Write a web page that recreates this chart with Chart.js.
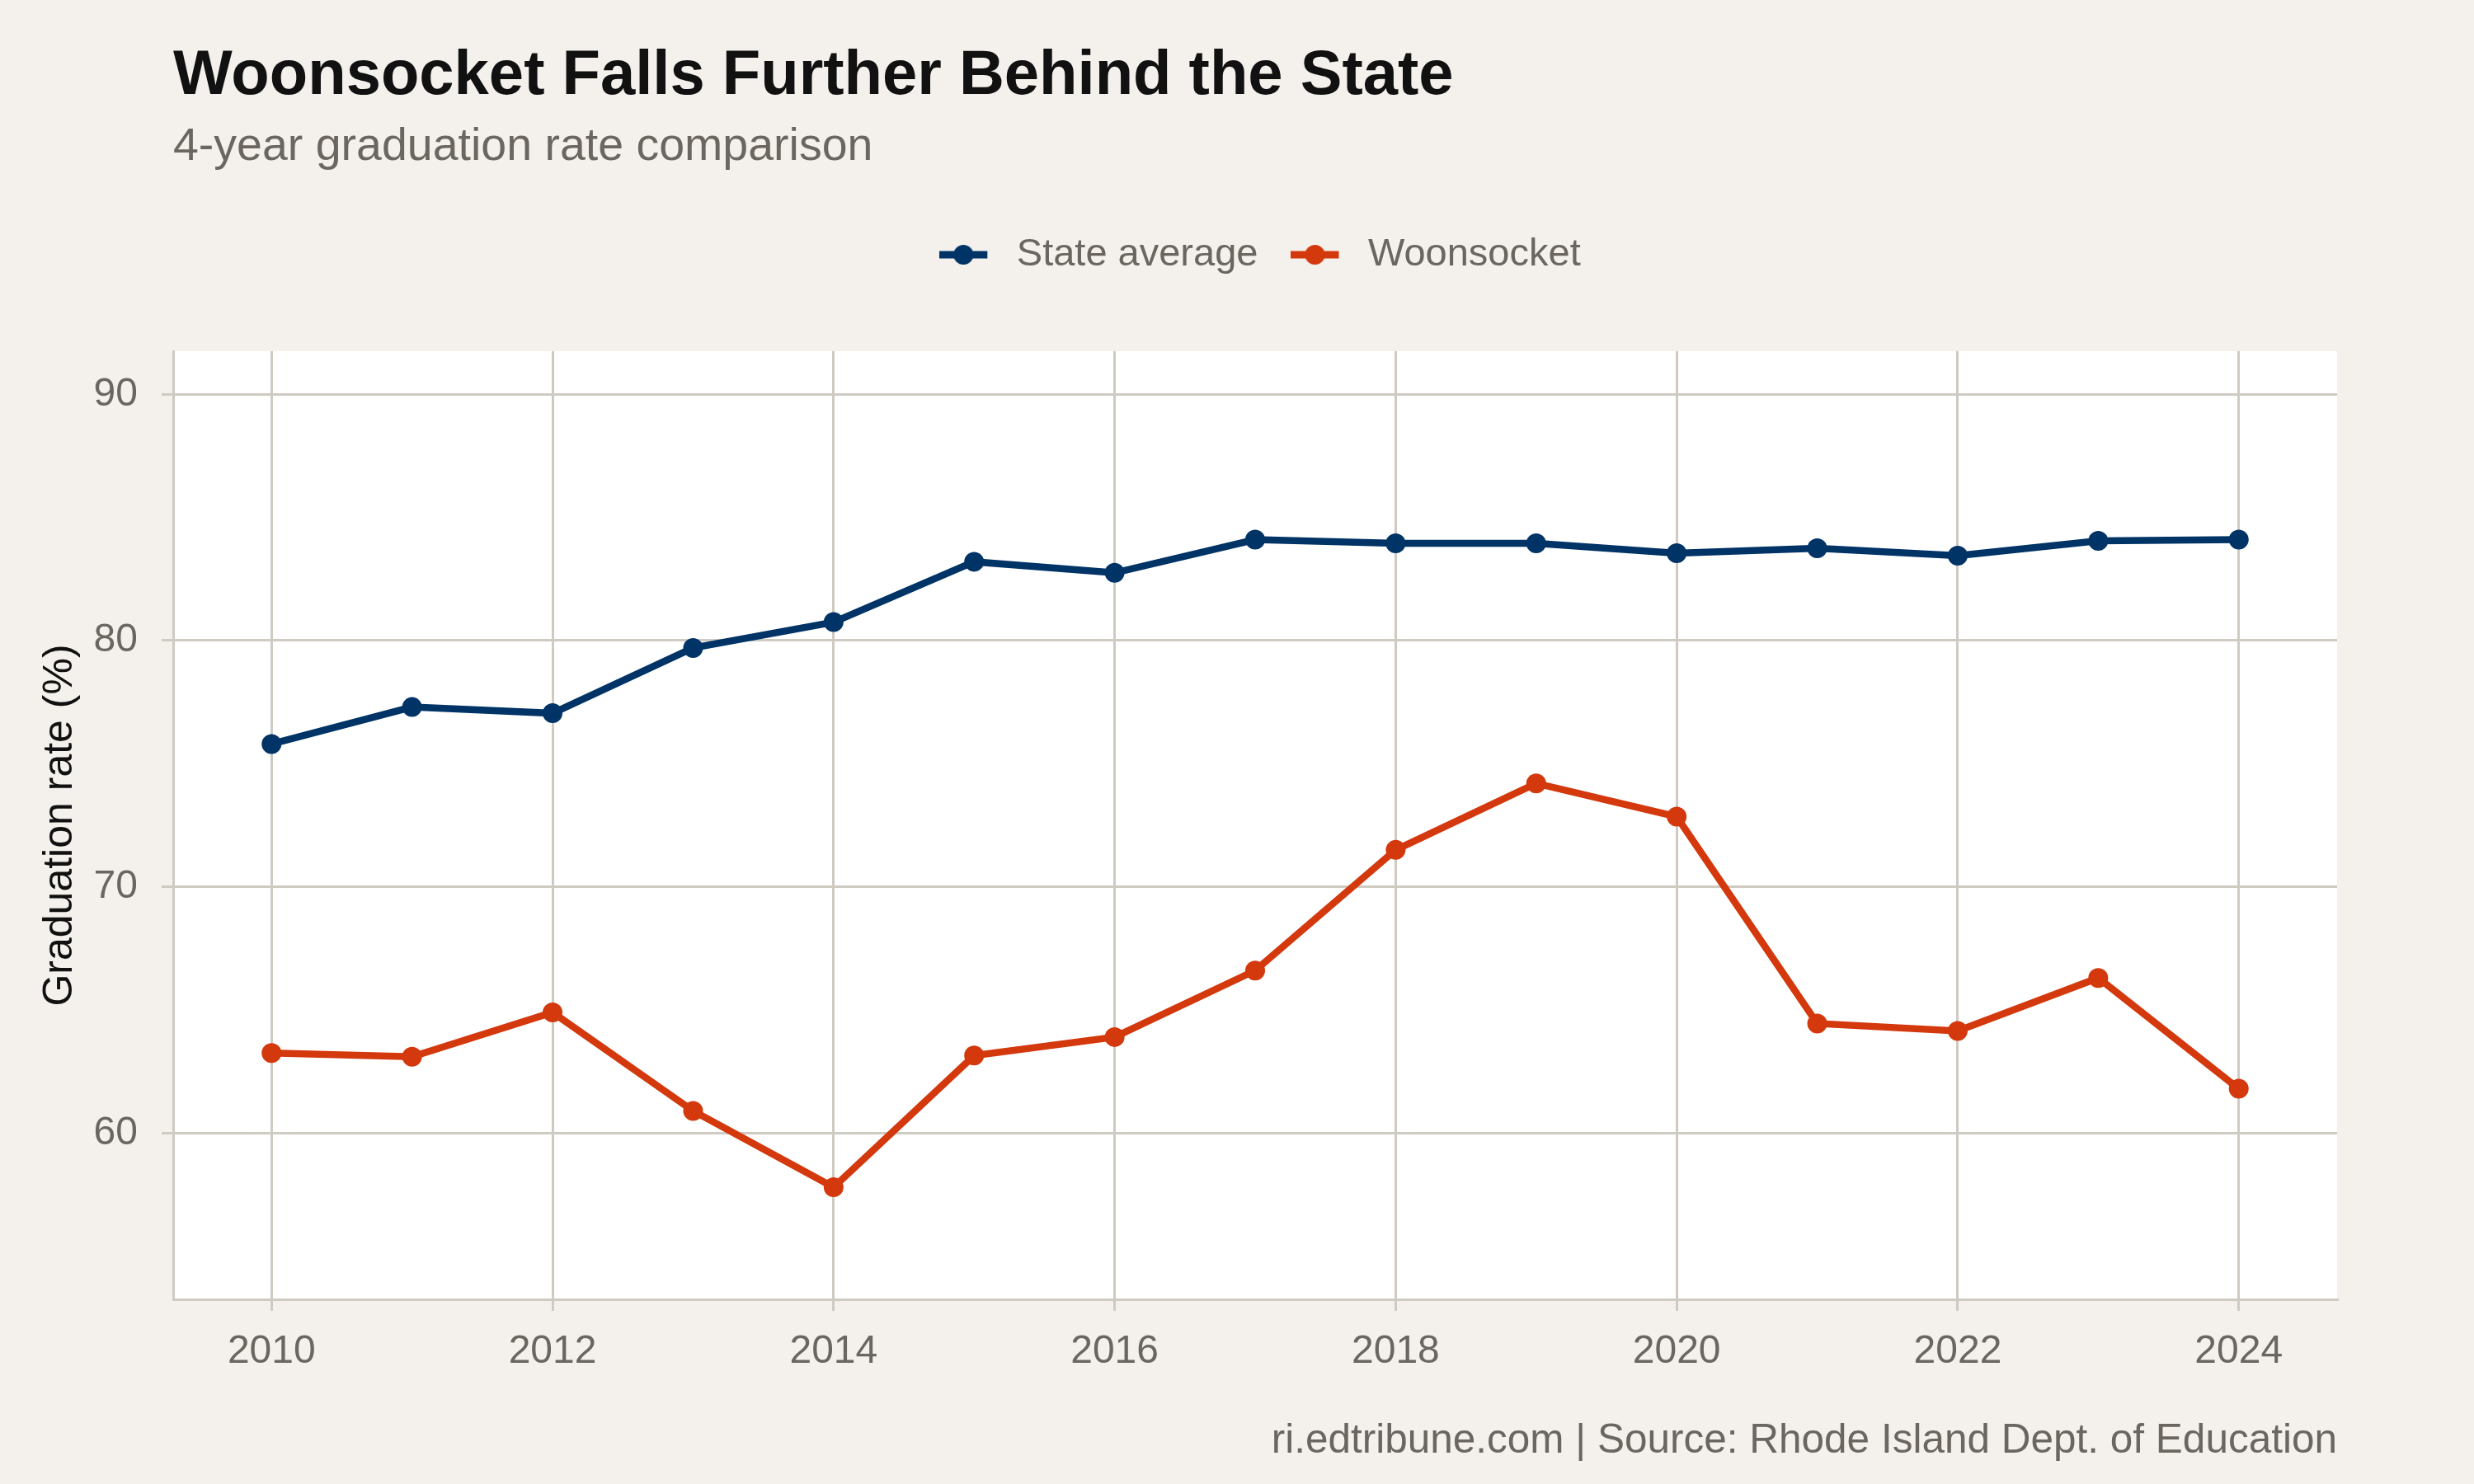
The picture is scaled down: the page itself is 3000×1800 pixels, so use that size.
<!DOCTYPE html>
<html>
<head>
<meta charset="utf-8">
<script src="https://cdn.jsdelivr.net/npm/chart.js@4"></script>
<style>
  html, body { margin: 0; padding: 0; background: #f4f1ec; }
  #wrap { width: 3000px; height: 1800px; }
</style>
</head>
<body>
<div id="wrap"><canvas id="c" width="3000" height="1800"></canvas></div>
<script>
// ---- data ----
const years = [2010, 2011, 2012, 2013, 2014, 2015, 2016, 2017, 2018, 2019, 2020, 2021, 2022, 2023, 2024];
const stateAverage = [75.8, 77.3, 77.05, 79.7, 80.75, 83.2, 82.75, 84.1, 83.95, 83.95, 83.55, 83.75, 83.45, 84.05, 84.1];
const woonsocket = [63.25, 63.1, 64.9, 60.9, 57.8, 63.15, 63.9, 66.6, 71.5, 74.2, 72.85, 64.45, 64.15, 66.3, 61.8];
const xTicks = [2010, 2012, 2014, 2016, 2018, 2020, 2022, 2024];
const yTicks = [60, 70, 80, 90];
const seriesNames = ['State average', 'Woonsocket'];
const titleText = 'Woonsocket Falls Further Behind the State';
const subtitleText = '4-year graduation rate comparison';
const captionText = 'ri.edtribune.com | Source: Rhode Island Dept. of Education';
const yTitleText = 'Graduation rate (%)';

// ---- style ----
const NAVY = '#003366';
const ORANGE = '#d4380d';
const BG = '#f4f1ec';
const GRID = '#cfcac2';
const GRAY = '#6b6660';
const FONT = "'Liberation Sans', Arial, Helvetica, sans-serif";

const AREA = { left: 210, right: 2834, top: 426, bottom: 1576 };
const legendFont = 47, legendPad = 40;

function keyImage(color) {
  const c = document.createElement('canvas');
  c.width = 70; c.height = 28;
  const g = c.getContext('2d');
  g.strokeStyle = color; g.lineWidth = 9;
  g.beginPath(); g.moveTo(0, 14); g.lineTo(58, 14); g.stroke();
  g.fillStyle = color;
  g.beginPath(); g.arc(29, 14, 12, 0, Math.PI * 2); g.fill();
  return c;
}
const keys = [keyImage(NAVY), keyImage(ORANGE)];

const bgPlugin = {
  id: 'bgPanel',
  beforeDraw(chart) {
    const ctx = chart.ctx, a = chart.chartArea;
    ctx.save();
    ctx.fillStyle = BG;
    ctx.fillRect(0, 0, chart.width, chart.height);
    ctx.fillStyle = '#ffffff';
    ctx.fillRect(a.left, a.top, a.right - a.left, a.bottom - a.top);
    ctx.restore();
  },
  afterLayout(chart) {
    const lg = chart.legend, a = chart.chartArea;
    if (!lg) return;
    const h = lg.height;
    lg.left = a.left + 6; lg.right = a.right + 6; lg.width = a.right - a.left;
    lg.top = 309 - legendPad - legendFont / 2; lg.bottom = lg.top + h;
  },
  afterDraw(chart) {
    const ctx = chart.ctx, a = chart.chartArea;
    ctx.save();
    ctx.textAlign = 'left';
    ctx.textBaseline = 'alphabetic';
    ctx.fillStyle = '#111111';
    ctx.font = 'bold 76px ' + FONT;
    ctx.fillText(titleText, a.left, 114);
    ctx.fillStyle = GRAY;
    ctx.font = '55.5px ' + FONT;
    ctx.fillText(subtitleText, a.left, 194);
    ctx.restore();
  }
};

Chart.defaults.font.family = FONT;

new Chart(document.getElementById('c'), {
  type: 'line',
  data: {
    datasets: [
      {
        label: seriesNames[0],
        data: years.map((y, i) => ({ x: y, y: stateAverage[i] })),
        borderColor: NAVY, backgroundColor: NAVY,
        borderWidth: 8.5, pointRadius: 12, pointBorderWidth: 0, pointHoverRadius: 12,
        tension: 0
      },
      {
        label: seriesNames[1],
        data: years.map((y, i) => ({ x: y, y: woonsocket[i] })),
        borderColor: ORANGE, backgroundColor: ORANGE,
        borderWidth: 8.5, pointRadius: 12, pointBorderWidth: 0, pointHoverRadius: 12,
        tension: 0
      }
    ]
  },
  options: {
    responsive: false,
    devicePixelRatio: 1,
    animation: false,
    layout: { padding: { left: 0, right: 3000 - AREA.right, top: AREA.top - (legendFont + legendPad + 10), bottom: 0 } },
    plugins: {
      tooltip: { enabled: false },
      title: { display: false },
      legend: {
        display: true,
        position: 'top',
        align: 'center',
        labels: {
          color: GRAY,
          font: { size: legendFont },
          padding: legendPad,
          usePointStyle: true,
          pointStyleWidth: 70,
          boxHeight: legendFont,
          generateLabels(chart) {
            const items = Chart.defaults.plugins.legend.labels.generateLabels(chart);
            items.forEach((it, i) => { it.pointStyle = keys[i]; });
            return items;
          }
        }
      }
    },
    scales: {
      x: {
        type: 'linear',
        min: 2009.3, max: 2024.7,
        afterBuildTicks(scale) { scale.ticks = xTicks.map(v => ({ value: v })); },
        afterFit(scale) { scale.height = 1800 - AREA.bottom; },
        ticks: {
          color: GRAY, font: { size: 48 }, padding: 21, maxRotation: 0, autoSkip: false,
          callback: v => String(v)
        },
        grid: { color: GRID, lineWidth: 3, drawTicks: true, tickLength: 14, tickColor: GRID, tickWidth: 3 },
        border: { display: true, color: GRID, width: 3 },
        title: {
          display: true, text: captionText, align: 'end', color: GRAY,
          font: { size: 49.5 }, padding: { top: 0, bottom: 22 }
        }
      },
      y: {
        type: 'linear',
        min: 53.25, max: 91.75,
        afterBuildTicks(scale) { scale.ticks = yTicks.map(v => ({ value: v })); },
        afterFit(scale) { scale.width = AREA.left; },
        ticks: { color: GRAY, font: { size: 48 }, padding: 29, callback: v => String(v) },
        grid: { color: GRID, lineWidth: 3, drawTicks: true, tickLength: 14, tickColor: GRID, tickWidth: 3 },
        border: { display: true, color: GRID, width: 3 },
        title: {
          display: true, text: yTitleText, color: '#111111',
          font: { size: 50 }, padding: { top: 43, bottom: 0 }
        }
      }
    }
  },
  plugins: [bgPlugin]
});
</script>
</body>
</html>
